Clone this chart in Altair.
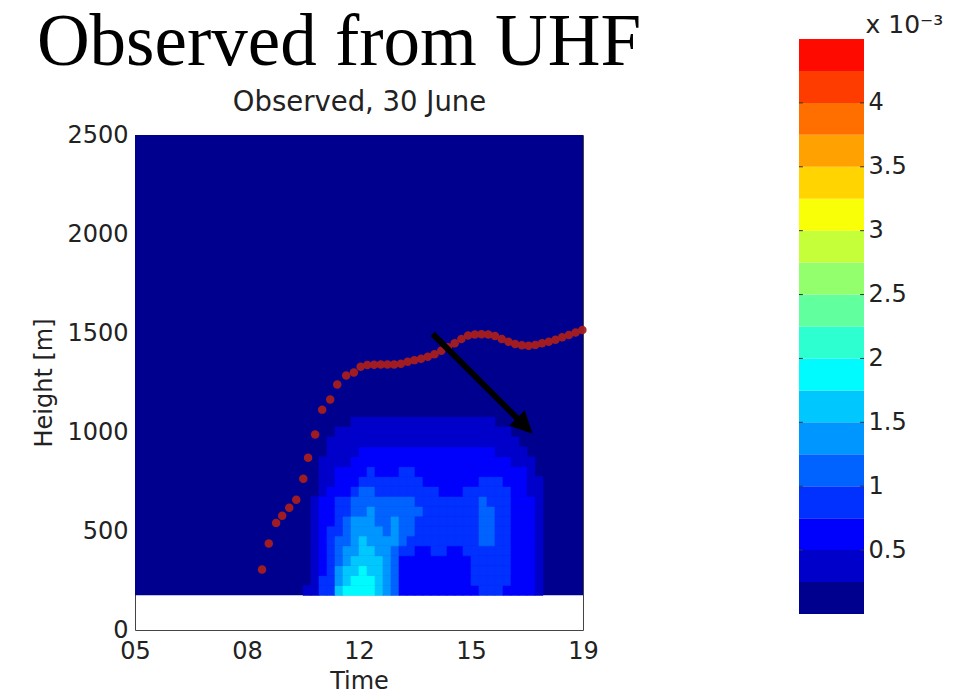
import altair as alt
import pandas as pd

# ---------------- data ----------------
# contour level index of the field (0 = lowest band), 0.25 h x 50 m cells,
# rows from the bottom (175 m) upward, columns from 10:00 to 18:00
field_time_start, field_time_step = 10.0, 0.25
field_height_start, field_height_step = 175, 50
field_levels = [
    [0,1,1,3,3,6,7,7,7,7,6,5,4,2,2,2,2,2,2,2,2,2,2,3,3,3,2,2,2,2,1,0],
    [0,0,1,3,3,5,6,7,7,7,6,5,4,2,2,2,2,2,2,2,2,2,3,3,3,3,3,2,2,2,1,0],
    [0,0,1,2,3,5,6,6,7,6,6,5,4,2,2,2,2,2,2,2,2,2,3,3,3,3,3,2,2,2,1,0],
    [0,0,1,2,3,4,5,6,6,6,6,5,4,2,2,2,2,2,2,2,2,2,3,3,3,3,3,2,2,2,1,0],
    [0,0,1,2,3,4,5,5,6,6,5,5,4,3,3,2,2,3,3,2,2,3,3,3,3,3,3,2,2,2,1,0],
    [0,0,1,2,3,4,4,5,6,5,5,5,5,4,3,3,3,3,3,3,3,3,3,4,4,3,3,2,2,2,1,0],
    [0,0,1,2,3,3,4,5,5,5,5,4,5,4,4,3,3,3,3,3,3,3,3,4,4,3,3,2,2,2,1,0],
    [0,0,1,2,2,3,4,5,5,5,4,4,5,4,4,3,3,3,3,3,3,3,3,4,4,3,3,2,2,2,1,0],
    [0,0,1,2,2,3,3,4,4,5,4,4,4,4,4,4,3,3,3,3,3,3,3,4,4,3,3,2,2,2,1,0],
    [0,0,1,2,2,3,3,4,4,4,4,4,4,4,4,3,3,3,3,3,3,3,3,4,3,3,3,2,2,2,1,0],
    [0,0,0,1,2,2,2,3,4,4,3,3,3,3,3,3,3,3,2,2,2,3,3,3,3,3,3,2,2,1,1,0],
    [0,0,0,1,1,2,2,2,3,3,3,3,3,3,3,3,2,2,2,2,2,2,2,3,3,3,2,2,2,1,1,0],
    [0,0,0,1,1,2,2,2,2,3,2,2,2,3,3,2,2,2,2,2,2,2,2,2,2,2,2,2,2,1,0,0],
    [0,0,0,1,1,1,1,2,2,2,2,2,2,2,2,2,2,2,2,2,2,2,2,2,2,2,2,1,1,1,0,0],
    [0,0,0,0,1,1,1,1,2,2,2,2,2,2,2,2,2,2,2,2,2,2,2,2,2,1,1,1,1,0,0,0],
    [0,0,0,0,1,1,1,1,1,1,1,1,1,1,1,1,1,1,1,1,1,1,1,1,1,1,1,1,0,0,0,0],
    [0,0,0,0,0,1,1,1,1,1,1,1,1,1,1,1,1,1,1,1,1,1,1,1,1,1,1,0,0,0,0,0],
    [0,0,0,0,0,0,0,1,1,1,1,1,1,1,1,1,1,1,1,1,1,1,1,1,1,0,0,0,0,0,0,0],
]
field_time_range = [5, 19]
field_height_range = [175, 2500]

# boundary-layer height (red dots)
blh_time = [8.97, 9.18, 9.41, 9.60, 9.82, 10.04, 10.26, 10.41, 10.63, 10.85,
            11.10, 11.32, 11.60, 11.84, 12.05, 12.26, 12.47, 12.68, 12.89, 13.10,
            13.31, 13.52, 13.73, 13.94, 14.15, 14.36, 14.57, 14.78, 14.99, 15.20,
            15.41, 15.62, 15.83, 16.04, 16.25, 16.46, 16.67, 16.88, 17.09, 17.30,
            17.51, 17.72, 17.93, 18.14, 18.35, 18.56, 18.77, 18.98]
blh_height = [305, 437, 541, 577, 617, 658, 764, 870, 987, 1113,
              1164, 1240, 1285, 1300, 1330, 1338, 1340, 1341, 1341, 1341,
              1345, 1355, 1363, 1370, 1380, 1393, 1410, 1428, 1448, 1470,
              1487, 1492, 1494, 1493, 1485, 1470, 1456, 1445, 1438, 1436,
              1440, 1448, 1456, 1466, 1478, 1490, 1502, 1515]

# black arrow (start, head centre)
arrow_time = [14.30, 17.18]
arrow_height = [1496, 1031]

# colour bar (units of 1e-3)
cbar_levels = [0.0, 0.25, 0.5, 0.75, 1.0, 1.25, 1.5, 1.75, 2.0, 2.25,
               2.5, 2.75, 3.0, 3.25, 3.5, 3.75, 4.0, 4.25, 4.5]
cbar_ticks = [0.5, 1.0, 1.5, 2.0, 2.5, 3.0, 3.5, 4.0]
cbar_colors = ["#00008F", "#0000CB", "#0000FD", "#0031FF", "#0063FF", "#0096FF",
               "#00C8FF", "#00FBFF", "#2EFFD1", "#61FF9E", "#93FF6C", "#C5FF3A",
               "#F8FF07", "#FFD400", "#FFA100", "#FF6F00", "#FF3C00", "#FF0A00"]

x_tick_values = [5, 8.5, 12, 15.5, 19]
x_tick_labels = ["05", "08", "12", "15", "19"]
y_tick_values = [0, 500, 1000, 1500, 2000, 2500]

# ---------------- tables ----------------
band_mid = [(a + b) / 2 for a, b in zip(cbar_levels[:-1], cbar_levels[1:])]
cells = []
for r, row in enumerate(field_levels):
    for c, lev in enumerate(row):
        if lev == 0:
            continue
        t0 = field_time_start + c * field_time_step
        h0 = field_height_start + r * field_height_step
        cells.append({"t0": t0, "t1": t0 + field_time_step,
                      "h0": h0, "h1": h0 + field_height_step, "v": band_mid[lev]})
cells_df = pd.DataFrame(cells)
bg_df = pd.DataFrame({"t0": [field_time_range[0]], "t1": [field_time_range[1]],
                      "h0": [field_height_range[0]], "h1": [field_height_range[1]],
                      "v": [band_mid[0]]})
dots_df = pd.DataFrame({"t0": blh_time, "h0": blh_height})
arrow_df = pd.DataFrame({"t0": arrow_time, "h0": arrow_height})
cbar_df = pd.DataFrame({
    "lo": cbar_levels[:-1], "hi": cbar_levels[1:], "mid": band_mid,
    "x0": [0] * len(band_mid), "x1": [1] * len(band_mid),
})
cbar_tick_df = pd.DataFrame(
    [{"y": v, "a": 0.0, "b": 0.06} for v in cbar_ticks]
    + [{"y": v, "a": 0.94, "b": 1.0} for v in cbar_ticks]
)

FONT = "DejaVu Sans"
TXT = "#222222"

color_scale = alt.Scale(type="threshold", domain=cbar_levels[1:-1], range=cbar_colors)
xs = alt.Scale(domain=field_time_range, nice=False, zero=False)
ys = alt.Scale(domain=[0, 2500], nice=False, zero=True)

label_expr = " : ".join(
    f"datum.value == {v} ? '{l}'" for v, l in zip(x_tick_values, x_tick_labels)
) + " : ''"

x_axis = alt.Axis(values=x_tick_values, labelExpr=label_expr, title="Time",
                  ticks=False, domain=False, grid=False, labelFlush=False,
                  labelPadding=9, titlePadding=6)
top_axis = alt.Axis(orient="top", title="Observed, 30 June", labels=False,
                    ticks=False, domain=False, grid=False, titleFontSize=27.5,
                    titlePadding=19)
y_axis = alt.Axis(values=y_tick_values, format="d", title="Height [m]", ticks=False,
                  domain=False, grid=False, labelFlush=False,
                  labelPadding=7, titlePadding=10)

bg_layer = alt.Chart(bg_df).mark_rect().encode(
    x=alt.X("t0:Q", scale=xs, axis=x_axis),
    x2="t1:Q",
    y=alt.Y("h0:Q", scale=ys, axis=y_axis),
    y2="h1:Q",
    fill=alt.Fill("v:Q", scale=color_scale, legend=None),
)
cell_layer = alt.Chart(cells_df).mark_rect(strokeWidth=0.6).encode(
    x=alt.X("t0:Q", axis=None), x2="t1:Q", y="h0:Q", y2="h1:Q",
    fill=alt.Fill("v:Q", scale=color_scale, legend=None),
    stroke=alt.Stroke("v:Q", scale=color_scale, legend=None),
)
dot_layer = alt.Chart(dots_df).mark_circle(size=72, color="#A81E1E", opacity=0.95).encode(
    x=alt.X("t0:Q", axis=None), y="h0:Q"
)
arrow_line = alt.Chart(arrow_df).mark_line(color="black", strokeWidth=6).encode(
    x=alt.X("t0:Q", axis=top_axis), y="h0:Q"
)
arrow_head = alt.Chart(arrow_df.tail(1)).mark_point(
    shape="M0,-1L1,1L-1,1Z", size=484, filled=True, color="black",
    opacity=1, angle=135
).encode(x=alt.X("t0:Q", axis=None), y="h0:Q")

main = alt.layer(bg_layer, cell_layer, dot_layer, arrow_line, arrow_head).resolve_axis(
    x="independent"
).properties(
    width=448, height=495,
    title=alt.TitleParams(
        text="Observed from UHF",
        font="Liberation Serif", fontSize=73, fontWeight="normal", color="black",
        anchor="middle", dx=-20, offset=8,
    ),
)

cb_x = alt.Scale(domain=[0, 1])
cb_y = alt.Scale(domain=[0, 4.5], range=[479, -96], nice=False)
cbar_rects = alt.Chart(cbar_df).mark_rect().encode(
    x=alt.X("x0:Q", scale=cb_x, axis=None),
    x2="x1:Q",
    y=alt.Y("lo:Q", scale=cb_y,
            axis=alt.Axis(orient="right", values=cbar_ticks, format=".1~f",
                          ticks=False, domain=False, grid=False,
                          title="x 10\u207b\u00b3", titleAngle=0, titleX=1, titleY=-103,
                          titleAlign="left", titleBaseline="alphabetic",
                          titleFontSize=25, labelPadding=4, labelFlush=False)),
    y2="hi:Q",
    fill=alt.Fill("mid:Q", scale=color_scale, legend=None),
)
cbar_tick_marks = alt.Chart(cbar_tick_df).mark_rule(color="#333333", strokeWidth=1).encode(
    x=alt.X("a:Q", scale=cb_x, axis=None), x2="b:Q", y=alt.Y("y:Q", scale=cb_y)
)
cbar = alt.layer(cbar_rects, cbar_tick_marks).properties(
    width=65, height=495,
    view=alt.ViewBackground(strokeWidth=0),
)

chart = alt.hconcat(main, cbar, spacing=156).configure(
    padding={"left": 32, "top": 6, "right": 0, "bottom": 0},
    background="white",
).configure_view(stroke="#444444", strokeWidth=1).configure_axis(
    labelFont=FONT, titleFont=FONT, labelFontSize=24,
    titleFontSize=24, labelColor=TXT, titleColor=TXT,
    titleFontWeight="normal",
)

chart.save("out.html", embed_options={"renderer": "svg", "actions": False})
